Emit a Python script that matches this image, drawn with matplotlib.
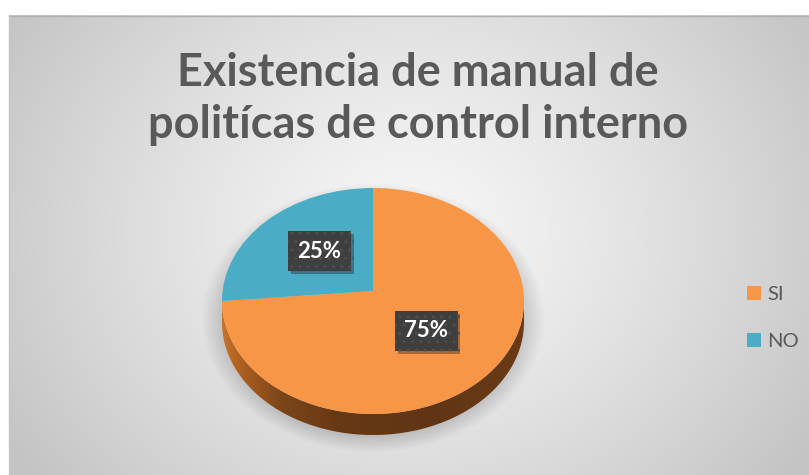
import numpy as np
import matplotlib
matplotlib.use("Agg")
import matplotlib.pyplot as plt
from matplotlib.patches import Polygon, Ellipse, Patch, PathPatch
from matplotlib.path import Path
import matplotlib.patheffects as pe

# data
labels = ["SI", "NO"]
values = [75, 25]
colors = ["#F79646", "#4BACC6"]
title = "Existencia de manual de\npolitícas de control interno"

W, H = 809, 475
plt.rcParams['font.family'] = ['Lato', 'DejaVu Sans']

fig = plt.figure(figsize=(W / 100, H / 100), dpi=100)
fig.patch.set_facecolor("white")

# background chart area with radial gradient
bg = fig.add_axes([0, 0, 1, 1])
bg.set_xlim(0, W)
bg.set_ylim(H, 0)
bg.axis("off")
yy, xx = np.mgrid[0:H, 0:W]
d = np.sqrt(((xx - 410) / 1.0) ** 2 + ((yy - 230) / 0.85) ** 2)
shade = 0.965 - 0.20 * np.clip(d / 480, 0, 1) ** 1.3
img = np.dstack([shade] * 3)
img[yy < 15] = 1.0
img[xx < 9] = 1.0
bg.imshow(img, extent=(0, W, H, 0), interpolation="bilinear", zorder=0)
bg.plot([9, W], [15.5, 15.5], color="#b0b0b0", lw=1, zorder=1)
bg.plot([9.5, 9.5], [15, H], color="#c4c4c4", lw=1, zorder=1)

bg.text(418, 99, title, ha="center", va="center", fontsize=32.5, fontweight="bold",
        color="#595959", linespacing=1.3)

# pie geometry in pixels (top face ellipse, perspective apex, side depth)
cx, cy, a, b, depth, apex_y = 373, 301, 151, 113, 21, 291
dd = depth / b
off = (cy - apex_y) / b
left = (cx - a) / W
width = 2 * a / W
top_px = cy - b
bot_px = cy + b + depth
ax = fig.add_axes([left, 1 - bot_px / H, width, (bot_px - top_px) / H])
ax.patch.set_visible(False)

wedges, texts, autotexts = ax.pie(values, colors=colors, startangle=90, counterclock=False,
                                  autopct='%1.0f%%', pctdistance=0.5,
                                  wedgeprops=dict(linewidth=0), labels=None)
ax.set_aspect("auto")
ax.axis("off")

# move the wedge apex up a little to imitate perspective
for w in wedges:
    p = w.get_path()
    v = p.vertices.copy()
    r = np.hypot(v[:, 0], v[:, 1])
    v[r < 1e-6, 1] += off
    ax.add_patch(PathPatch(Path(v, p.codes), facecolor=w.get_facecolor(), lw=0, zorder=5))
    w.set_visible(False)

# soft shadow
for i in range(12):
    s = 1.0 + 0.012 * i
    ax.add_patch(Ellipse((0, -dd * 0.8), 2 * s, 2 * s + dd * 0.6, facecolor="black",
                         alpha=0.012, lw=0, zorder=1, clip_on=False))

# side of the 3D pie
t = np.linspace(np.pi, 2 * np.pi, 200)
xs = np.cos(t)
ys = np.sin(t)
verts = np.concatenate([np.column_stack([xs, ys]), np.column_stack([xs[::-1], ys[::-1] - dd])])
side = Polygon(verts, closed=True, facecolor="none", lw=0, zorder=3)
ax.add_patch(side)
gx = np.linspace(-1, 1, 400)
stops_x = [-1.0, -0.85, -0.6, -0.2, 0.4, 1.0]
stops_c = np.array([[0.78, 0.45, 0.16], [0.66, 0.36, 0.12], [0.48, 0.27, 0.10],
                    [0.40, 0.22, 0.08], [0.38, 0.21, 0.08], [0.42, 0.23, 0.09]])
grad = np.column_stack([np.interp(gx, stops_x, stops_c[:, k]) for k in range(3)])
gimg = np.repeat(grad[None, :, :], 20, axis=0)
im = ax.imshow(gimg, extent=(-1, 1, -1 - dd, 0.0), aspect="auto", zorder=3,
               interpolation="bilinear")
im.set_clip_path(side)
ax.set_xlim(-1, 1)
ax.set_ylim(-1 - dd, 1)

for at in autotexts:
    x0, y0 = at.get_position()
    at.set_position((x0, y0 + off))
    at.set_color("white")
    at.set_fontsize(16)
    at.set_fontweight("bold")
    at.set_zorder(10)
    at.set_bbox(dict(boxstyle="square,pad=0.42", facecolor="#3f3f3f", edgecolor="#4e4e4e",
                     hatch="..", linewidth=0))
    at.get_bbox_patch().set_path_effects([pe.SimplePatchShadow(offset=(2, -2), alpha=0.35),
                                          pe.Normal()])

handles = [Patch(facecolor=c, edgecolor="none") for c in colors]
fig.legend(handles, labels, loc="center left", bbox_to_anchor=(729 / W, 1 - 318 / H),
           frameon=False, fontsize=14.5, labelcolor="#595959", handlelength=0.7,
           handleheight=0.7, handletextpad=0.3, labelspacing=1.45)

fig.savefig("out.png", dpi=100)
